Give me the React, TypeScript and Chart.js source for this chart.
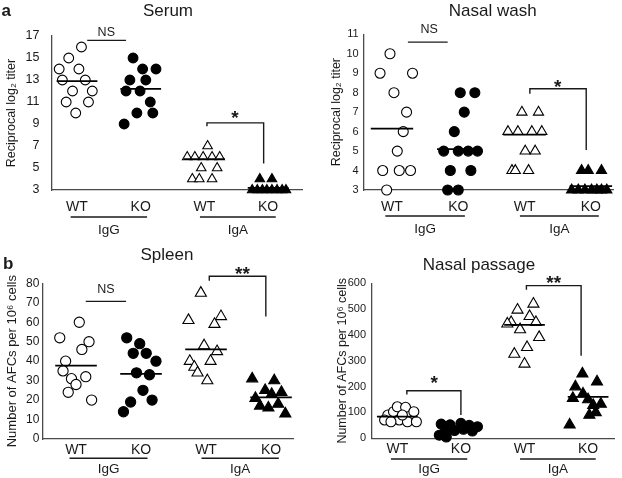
import React, { useEffect, useRef } from 'react';
import { Chart, registerables } from 'chart.js';

Chart.register(...registerables);

const FONT = '"Liberation Sans", Arial, Helvetica, sans-serif';
const INK = '#1a1a1a';
const AXIS = '#4a4a4a';

const categories = ['WT', 'KO', 'WT', 'KO'];
const groupLabels = ['IgG', 'IgA'];
const groupSpans = [[0.9, 2.1], [2.93, 4.12]];

// ---------- Serum (reciprocal log2 titer) ----------
const serumWtIgG = [16, 15, 14, 14, 13, 13, 12, 12, 11, 11, 10];
const serumWtIgGJitter = [0.07, -0.13, -0.28, 0.03, -0.23, 0.13, -0.07, 0.24, -0.17, 0.18, -0.02];
const serumKoIgG = [15, 14, 14, 13, 13, 12, 12, 11, 10, 10, 9];
const serumKoIgGJitter = [-0.12, 0.03, 0.24, -0.17, 0.08, -0.23, -0.01, 0.15, -0.06, 0.19, -0.26];
const serumWtIgA = [7, 6, 6, 6, 6, 6, 5, 5, 4, 4, 4];
const serumWtIgAJitter = [0.05, -0.27, -0.15, -0.02, 0.12, 0.24, -0.05, 0.2, -0.19, -0.08, 0.12];
const serumKoIgA = [4, 4, 3, 3, 3, 3, 3, 3, 3, 3];
const serumKoIgAJitter = [-0.13, 0.06, -0.25, -0.17, -0.09, -0.02, 0.06, 0.14, 0.22, 0.28];
const serumMeans = [12.9, 12.2, 5.8, 3.2];
// [xStart, xEnd, yStart, yTop, yEnd, label, labelX, labelY]
const serumMarks: [number, number, number, number, number, string, number, number][] = [
  [1.16, 1.77, 16.6, 16.6, 16.6, 'NS', 1.46, 17.3],
  [3.04, 3.93, 8.8, 9.1, 5.4, '*', 3.48, 10.0],
];

// ---------- Nasal wash (reciprocal log2 titer) ----------
const washWtIgG = [10, 9, 9, 8, 7, 6, 5, 4, 4, 4, 3];
const washWtIgGJitter = [-0.03, -0.18, 0.31, 0.03, 0.22, 0.17, 0.08, -0.14, 0.11, 0.28, -0.08];
const washKoIgG = [8, 8, 7, 6, 5, 5, 5, 5, 4, 4, 3, 3];
const washKoIgGJitter = [0.03, 0.25, 0.09, -0.06, -0.22, 0, 0.15, 0.29, -0.12, 0.19, -0.16, 0];
const washWtIgA = [7, 7, 6, 6, 6, 6, 5, 5, 4, 4, 4];
const washWtIgAJitter = [-0.04, 0.21, -0.25, -0.1, 0.11, 0.26, 0.01, 0.16, -0.19, -0.14, 0.06];
const washKoIgA = [4, 4, 4, 3, 3, 3, 3, 3, 3, 3];
const washKoIgAJitter = [-0.14, -0.04, 0.16, -0.29, -0.19, -0.09, 0.01, 0.09, 0.16, 0.24];
const washMeans = [6.15, 5.1, 5.85, 3.2];
const washMarks: [number, number, number, number, number, string, number, number][] = [
  [1.24, 1.84, 10.6, 10.6, 10.6, 'NS', 1.56, 11.26],
  [3.08, 3.93, 7.95, 8.2, 5.05, '*', 3.5, 8.55],
];

// ---------- Spleen (AFCs per 10^6 cells) ----------
const spleenWtIgG = [60, 52, 50, 46, 40, 35, 32, 31, 28, 24, 20];
const spleenWtIgGJitter = [0.05, -0.25, 0.2, 0.09, -0.16, -0.2, 0.15, -0.07, 0, -0.12, 0.24];
const spleenKoIgG = [52, 49, 44, 44, 40, 34, 33, 25, 19, 20, 14];
const spleenKoIgGJitter = [-0.22, -0.02, -0.12, 0.08, 0.23, -0.07, 0.13, 0.03, -0.16, 0.17, -0.27];
const spleenWtIgA = [75, 61, 63, 59, 48, 45, 40, 40, 37, 34, 30];
const spleenWtIgAJitter = [-0.08, -0.27, 0.23, 0.13, -0.03, 0.17, -0.25, 0.07, -0.18, -0.13, 0.02];
const spleenKoIgA = [31, 30, 25, 24, 21, 18, 17, 16, 13, 23];
const spleenKoIgAJitter = [-0.29, 0.05, -0.09, 0.16, -0.24, 0.11, -0.17, -0.04, 0.22, 0.01];
const spleenMeans = [37.7, 33.5, 46, 21.4];
const spleenMarks: [number, number, number, number, number, string, number, number][] = [
  [1.15, 1.77, 70.7, 70.7, 70.7, 'NS', 1.46, 77],
  [3.05, 3.92, 81.3, 83.6, 63, '**', 3.56, 87.4],
];

// ---------- Nasal passage (AFCs per 10^6 cells) ----------
const passageWtIgG = [90, 103, 71, 122, 120, 103, 71, 64, 64, 64, 90];
const passageWtIgGJitter = [-0.15, -0.06, -0.2, 0, 0.13, 0.26, 0.03, 0.16, -0.1, 0.3, 0.08];
const passageKoIgG = [55, 52, 58, 50, 45, 40, 35, 30, 28, 20, 12, 5];
const passageKoIgGJitter = [-0.31, -0.17, 0, 0.13, 0.26, -0.23, 0.04, -0.1, 0.18, -0.26, -0.34, -0.23];
const passageWtIgA = [520, 497, 472, 449, 449, 421, 391, 443, 352, 326, 288];
const passageWtIgAJitter = [0.14, -0.11, 0.08, -0.21, 0.18, -0.07, 0.23, -0.27, 0.04, -0.16, 0];
const passageKoIgA = [250, 219, 200, 172, 155, 150, 128, 133, 90, 100, 52];
const passageKoIgAJitter = [-0.09, 0.14, -0.2, -0.08, -0.24, 0, 0.08, 0.2, 0.02, 0.12, -0.29];
const passageMeans = [84, 36, 439, 160];
const passageMarks: [number, number, number, number, number, string, number, number][] = [
  [1.15, 2.0, 170, 184, 90, '*', 1.58, 232],
  [3.03, 3.89, 575, 591, 320, '**', 3.46, 619],
];

type Series = { values: number[]; jitter: number[]; cat: number; shape: 'circle' | 'triangle'; filled: boolean };

interface PanelCfg {
  left: number; top: number;
  title: string; titleX: number; titleY: number;
  letter?: string; letterX?: number; letterY?: number;
  yMin: number; yMax: number; yStep: number;
  yTitle: string; yTitleSize: number; yTitlePad: number;
  xMin: number; xMax: number;
  area: { l: number; r: number; t: number; b: number };
  yTickSize: number; yTickPad: number; xTickPad: number;
  underGap: number; groupGap: number;
  series: Series[]; means: number[];
  marks: [number, number, number, number, number, string, number, number][];
  circleR: number; triR: number;
}

const W = 311;
const H = 239;

const mk = (v: number[], j: number[], cat: number, shape: 'circle' | 'triangle', filled: boolean): Series => ({ values: v, jitter: j, cat, shape, filled });

const panels: PanelCfg[] = [
  {
    left: 0, top: 0, title: 'Serum', titleX: 168, titleY: 11, letter: 'a', letterX: 1.5, letterY: 16,
    yMin: 3, yMax: 17, yStep: 2, yTitle: 'Reciprocal log\u2082 titer', yTitleSize: 12.5, yTitlePad: 4.5,
    xMin: 0.6075, xMax: 4.532, area: { l: 52, r: 302, t: 36, b: 190 },
    yTickSize: 12.5, yTickPad: 12.5, xTickPad: 8.6, underGap: 27, groupGap: 40,
    series: [
      mk(serumWtIgG, serumWtIgGJitter, 0, 'circle', false),
      mk(serumKoIgG, serumKoIgGJitter, 1, 'circle', true),
      mk(serumWtIgA, serumWtIgAJitter, 2, 'triangle', false),
      mk(serumKoIgA, serumKoIgAJitter, 3, 'triangle', true),
    ],
    means: serumMeans, marks: serumMarks, circleR: 4.9, triR: 5.5,
  },
  {
    left: W, top: 0, title: 'Nasal wash', titleX: 181.7, titleY: 11,
    yMin: 3, yMax: 11, yStep: 1, yTitle: 'Reciprocal log\u2082 titer', yTitleSize: 12.5, yTitlePad: 18.5,
    xMin: 0.578, xMax: 4.334, area: { l: 53, r: 302, t: 34.3, b: 190 },
    yTickSize: 11, yTickPad: 5.3, xTickPad: 8.6, underGap: 26, groupGap: 39.3,
    series: [
      mk(washWtIgG, washWtIgGJitter, 0, 'circle', false),
      mk(washKoIgG, washKoIgGJitter, 1, 'circle', true),
      mk(washWtIgA, washWtIgAJitter, 2, 'triangle', false),
      mk(washKoIgA, washKoIgAJitter, 3, 'triangle', true),
    ],
    means: washMeans, marks: washMarks, circleR: 5, triR: 5.9,
  },
  {
    left: 0, top: H, title: 'Spleen', titleX: 167, titleY: 16, letter: 'b', letterX: 3, letterY: 30,
    yMin: 0, yMax: 80, yStep: 10, yTitle: 'Number of AFCs per 10\u2076 cells', yTitleSize: 13, yTitlePad: 4.2,
    xMin: 0.492, xMax: 4.338, area: { l: 43, r: 293, t: 44.3, b: 200 },
    yTickSize: 12, yTickPad: 3.7, xTickPad: 3.2, underGap: 19.3, groupGap: 30,
    series: [
      mk(spleenWtIgG, spleenWtIgGJitter, 0, 'circle', false),
      mk(spleenKoIgG, spleenKoIgGJitter, 1, 'circle', true),
      mk(spleenWtIgA, spleenWtIgAJitter, 2, 'triangle', false),
      mk(spleenKoIgA, spleenKoIgAJitter, 3, 'triangle', true),
    ],
    means: spleenMeans, marks: spleenMarks, circleR: 5.1, triR: 6.4,
  },
  {
    left: W, top: H, title: 'Nasal passage', titleX: 168, titleY: 26,
    yMin: 0, yMax: 600, yStep: 100, yTitle: 'Number of AFCs per 10\u2076 cells', yTitleSize: 12.5, yTitlePad: 24,
    xMin: 0.602, xMax: 4.415, area: { l: 61, r: 310, t: 44.3, b: 199.3 },
    yTickSize: 11, yTickPad: 6, xTickPad: 2.1, underGap: 20.7, groupGap: 31.4,
    series: [
      mk(passageWtIgG, passageWtIgGJitter, 0, 'circle', false),
      mk(passageKoIgG, passageKoIgGJitter, 1, 'circle', true),
      mk(passageWtIgA, passageWtIgAJitter, 2, 'triangle', false),
      mk(passageKoIgA, passageKoIgAJitter, 3, 'triangle', true),
    ],
    means: passageMeans, marks: passageMarks, circleR: 5, triR: 6.4,
  },
];

const MEAN_HALF = 0.32;

function decorPlugin(cfg: PanelCfg) {
  return {
    id: 'decor',
    afterDraw(chart: any) {
      const ctx: CanvasRenderingContext2D = chart.ctx;
      const xs = chart.scales.x;
      const ys = chart.scales.y;
      const area = chart.chartArea;
      ctx.save();
      ctx.fillStyle = INK;
      ctx.strokeStyle = INK;
      // title
      ctx.font = `17px ${FONT}`;
      ctx.textAlign = 'center';
      ctx.textBaseline = 'middle';
      ctx.fillText(cfg.title, cfg.titleX, cfg.titleY);
      // panel letter
      if (cfg.letter) {
        ctx.font = `bold 17px ${FONT}`;
        ctx.textAlign = 'left';
        ctx.textBaseline = 'alphabetic';
        ctx.fillText(cfg.letter, cfg.letterX || 0, cfg.letterY || 0);
      }
      // group underlines and labels
      ctx.lineWidth = 1.4;
      groupSpans.forEach((sp, i) => {
        const x1 = xs.getPixelForValue(sp[0]);
        const x2 = xs.getPixelForValue(sp[1]);
        const y = area.bottom + cfg.underGap;
        ctx.beginPath();
        ctx.moveTo(x1, y);
        ctx.lineTo(x2, y);
        ctx.stroke();
        ctx.font = `13.5px ${FONT}`;
        ctx.textAlign = 'center';
        ctx.textBaseline = 'middle';
        ctx.fillText(groupLabels[i], (x1 + x2) / 2, area.bottom + cfg.groupGap);
      });
      // significance brackets
      ctx.lineWidth = 1.4;
      cfg.marks.forEach(([xa, xb, ya, yt, yb, label, lx, ly]) => {
        const pxa = xs.getPixelForValue(xa);
        const pxb = xs.getPixelForValue(xb);
        ctx.beginPath();
        ctx.moveTo(pxa, ys.getPixelForValue(ya));
        ctx.lineTo(pxa, ys.getPixelForValue(yt));
        ctx.lineTo(pxb, ys.getPixelForValue(yt));
        ctx.lineTo(pxb, ys.getPixelForValue(yb));
        ctx.stroke();
        const tx = xs.getPixelForValue(lx);
        const ty = ys.getPixelForValue(ly);
        ctx.textAlign = 'center';
        if (label === 'NS') {
          ctx.font = `12.5px ${FONT}`;
          ctx.textBaseline = 'middle';
          ctx.fillText(label, tx, ty);
        } else {
          const size = 19;
          ctx.font = `bold ${size}px ${FONT}`;
          ctx.textBaseline = 'alphabetic';
          ctx.fillText(label, tx, ty + size * 0.57);
        }
      });
      ctx.restore();
    },
  };
}

function Panel({ cfg }: { cfg: PanelCfg }) {
  const ref = useRef<HTMLCanvasElement | null>(null);
  useEffect(() => {
    if (!ref.current) return;
    const datasets: any[] = [];
    cfg.means.forEach((m, i) => {
      datasets.push({
        data: [{ x: i + 1 - MEAN_HALF, y: m }, { x: i + 1 + MEAN_HALF, y: m }],
        showLine: true,
        borderColor: '#000',
        borderWidth: 1.8,
        pointRadius: 0,
        pointHoverRadius: 0,
        clip: false,
        order: 1,
      });
    });
    cfg.series.forEach((s) => {
      const r = s.shape === 'circle' ? cfg.circleR : cfg.triR;
      datasets.push({
        data: s.values.map((v, i) => ({ x: s.cat + 1 + s.jitter[i], y: v })),
        showLine: false,
        pointStyle: s.shape,
        pointRadius: r,
        pointHoverRadius: r,
        pointBackgroundColor: s.filled ? '#000' : '#fff',
        pointBorderColor: '#000',
        pointBorderWidth: 1.1,
        clip: false,
        order: 2,
      });
    });
    const chart = new Chart(ref.current, {
      type: 'scatter',
      data: { datasets },
      options: {
        animation: false,
        responsive: false,
        events: [],
        layout: { padding: { left: 0, top: cfg.area.t, right: W - cfg.area.r, bottom: 0 } },
        plugins: { legend: { display: false }, tooltip: { enabled: false }, title: { display: false } },
        scales: {
          x: {
            type: 'linear',
            min: cfg.xMin,
            max: cfg.xMax,
            grid: { display: false, drawTicks: false },
            border: { display: true, color: AXIS, width: 1.3 },
            afterBuildTicks: (s: any) => {
              s.ticks = categories.map((_, i) => ({ value: i + 1 }));
            },
            afterFit: (s: any) => {
              s.height = H - cfg.area.b;
            },
            ticks: {
              autoSkip: false,
              maxRotation: 0,
              padding: cfg.xTickPad,
              color: INK,
              font: { family: FONT, size: 14 },
              callback: (_v: any, i: number) => categories[i],
            },
          },
          y: {
            type: 'linear',
            min: cfg.yMin,
            max: cfg.yMax,
            grid: { display: false, drawTicks: false },
            border: { display: true, color: AXIS, width: 1.3 },
            afterFit: (s: any) => {
              s.width = cfg.area.l;
            },
            ticks: {
              stepSize: cfg.yStep,
              padding: cfg.yTickPad,
              color: INK,
              font: { family: FONT, size: cfg.yTickSize },
            },
            title: {
              display: true,
              text: cfg.yTitle,
              color: INK,
              padding: { top: cfg.yTitlePad, bottom: 0 },
              font: { family: FONT, size: cfg.yTitleSize },
            },
          },
        },
      } as any,
      plugins: [decorPlugin(cfg)],
    });
    return () => chart.destroy();
  }, [cfg]);
  return (
    <div style={{ position: 'absolute', left: cfg.left, top: cfg.top, width: W, height: H }}>
      <canvas ref={ref} width={W} height={H} style={{ display: 'block' }} />
    </div>
  );
}

export default function App() {
  return (
    <div style={{ position: 'fixed', left: 0, top: 0, width: 622, height: 478, background: '#fff', overflow: 'hidden' }}>
      {panels.map((p, i) => (
        <Panel key={i} cfg={p} />
      ))}
    </div>
  );
}
